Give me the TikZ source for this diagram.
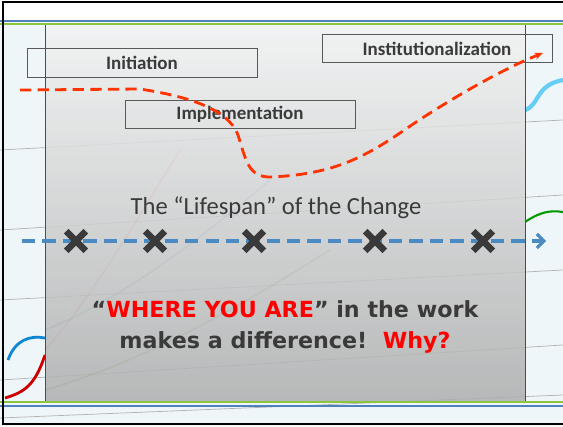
\documentclass[tikz,border=0pt]{standalone}
\usepackage{fontspec}
\setmainfont{Carlito}
\newfontfamily\boldsans{DejaVu Sans}
\usepackage{xcolor}
\usetikzlibrary{arrows.meta, positioning, shapes.misc}
\definecolor{slideblue}{HTML}{4F81BD}
\definecolor{slidegreen}{HTML}{8CC63F}
\definecolor{pathred}{HTML}{FF3300}
\definecolor{lifeblue}{HTML}{4A8BC4}
\definecolor{textgrey}{HTML}{3A3A3A}
\definecolor{chartbg}{HTML}{EEF6F9}

\begin{document}
\begin{tikzpicture}[
    x=0.025cm, y=-0.025cm,
    phase/.style={draw=black!65, line width=0.6pt, minimum width=5.75cm, minimum height=0.72cm, font=\fontsize{13.5}{16}\selectfont\bfseries, text=textgrey},
    xmark/.style={cross out, draw=textgrey, line width=4.6pt, minimum size=0.33cm, inner sep=0pt},
    faint/.style={line width=1.2pt, opacity=0.35},
    arr/.style={-{Stealth[length=6pt, width=5pt]}}
]
    \useasboundingbox (0,0) rectangle (563,426);

    % --- Background (chart photo) ---
    \fill[chartbg] (0,0) rectangle (563,426);
    \fill[white] (0,0) rectangle (563,21);
    \foreach \ya/\yb in {150/120, 230/195, 300/270, 380/345, 418/395}
        \draw[black!30, line width=0.5pt] (0,\ya) -- (563,\yb);
    \draw[red!80!black, line width=2pt] (5,398) .. controls (25,392) and (35,385) .. (45,355);
    \draw[cyan!70!blue, line width=2pt] (8,360) .. controls (15,340) and (30,335) .. (45,338);
    \draw[green!60!black, line width=1.5pt] (525,222) .. controls (540,212) and (550,210) .. (563,212);
    \draw[cyan!60, line width=3pt] (525,110) .. controls (540,105) and (535,85) .. (563,80);
    \draw[red!70, faint] (45,350) .. controls (90,300) and (130,230) .. (180,150);
    \draw[cyan!70!blue, faint] (45,330) .. controls (120,300) and (200,240) .. (270,180);
    \draw[green!60!black, faint] (45,390) .. controls (150,360) and (250,300) .. (330,250);

    % --- Grey panel ---
    \shade[top color=black!5, bottom color=black!32, opacity=0.85] (45,26) rectangle (525,401);
    \draw[black!70, line width=0.5pt] (45,24) -- (45,402);
    \draw[black!70, line width=0.5pt] (525,24) -- (525,402);

    % --- Slide rules and frame ---
    \draw[slideblue, line width=1pt] (0,21) -- (563,21);
    \draw[slidegreen, line width=1.4pt] (0,24) -- (563,24);
    \draw[slidegreen, line width=1.4pt] (0,402) -- (563,402);
    \draw[slideblue, line width=1pt] (0,406) -- (563,406);
    \draw[black, line width=1.5pt] (570,2) -- (3,2) -- (3,424) -- (570,424);

    % --- Phases ---
    \node[phase] (init) at (142, 63) {Initiation};
    \node[phase] (impl) at (240, 114.5) {Implementation};
    \node[phase] (inst) at (437, 48.5) {Institutionalization};

    % --- Red dashed path through the phases ---
    \coordinate (redstart) at (20, 90);
    \coordinate (redend) at (543, 53);
    \draw[pathred, line width=2pt, dash pattern=on 8pt off 4.5pt, arr] (redstart) -- (140, 89)
        .. controls (185, 96) and (228, 108) .. (238, 135)
        .. controls (246, 160) and (248, 178) .. (272, 177)
        .. controls (330, 174) and (360, 160) .. (400, 133)
        .. controls (440, 105) and (500, 70) .. (redend);

    % --- Lifespan line ---
    \node[font=\fontsize{17.5}{20}\selectfont, text=textgrey] (life) at (276, 208) {The “Lifespan” of the Change};
    \coordinate (lifeL) at (22, 241);
    \coordinate (lifeR) at (546, 241);
    \draw[lifeblue, line width=2.2pt, dash pattern=on 9.5pt off 5pt, -{Straight Barb[length=5pt, width=10pt]}] (lifeL) -- (lifeR);
    \foreach \n/\xx in {1/76, 2/155, 3/254, 4/375, 5/483}
        \node[xmark] (m\n) at (\xx, 241) {};

    % --- Message ---
    \node[font=\boldsans\fontsize{15.8}{22}\selectfont\bfseries, text=textgrey, align=center] (msg) at (285, 327)
        {“\textcolor{red}{WHERE YOU ARE}” in the work\\makes a difference!\ \ \textcolor{red}{Why?}};
\end{tikzpicture}
\end{document}
